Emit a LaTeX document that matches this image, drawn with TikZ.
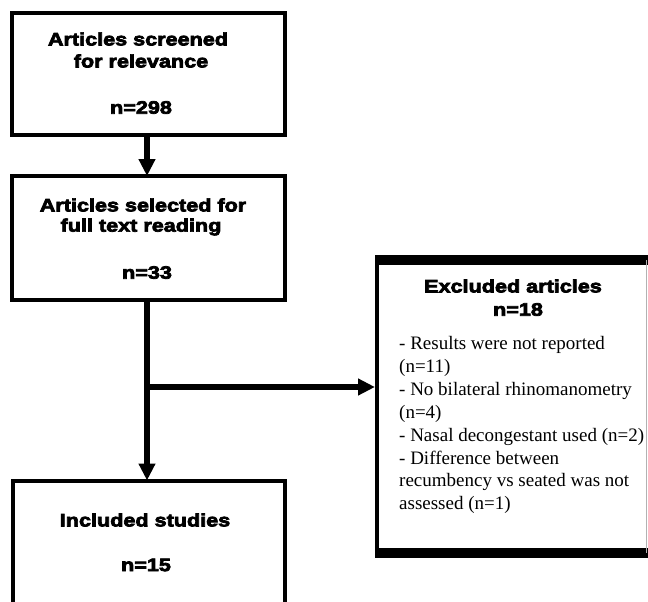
\documentclass[tikz,border=0pt]{standalone}
\usepackage{fontspec}
\setmainfont{Liberation Serif}
\newfontfamily\heavy{Liberation Sans Bold}[FakeBold=4, FakeStretch=1.2]
\usetikzlibrary{arrows.meta}
\tikzset{
  box/.style={draw=black, line width=4pt, fill=white, inner sep=0pt, outer sep=0pt},
  hv/.style={font=\heavy\fontsize{18}{22}\selectfont, inner sep=0pt, anchor=center},
  sr/.style={font=\fontsize{19}{23}\selectfont, inner sep=0pt, anchor=base west},
  conn/.style={line width=5.5pt, -{Triangle[length=17pt,width=16pt]}},
  plain/.style={line width=5.5pt}
}
\begin{document}
\begin{tikzpicture}[x=1pt,y=-1pt]
\useasboundingbox (0,0) rectangle (648,602);
\fill[white] (0,0) rectangle (648,602);
\clip (0,0) rectangle (648,602);
% boxes
\node[box, minimum width=273pt, minimum height=122pt] (b1) at (148.5,74) {};
\node[box, minimum width=273pt, minimum height=124pt] (b2) at (148.5,238) {};
\node[box, minimum width=272pt, minimum height=123.5pt] (b3) at (149,542.25) {};
\node[inner sep=0pt, outer sep=0pt, minimum width=270pt, minimum height=293pt] (ex) at (512,406.5) {};
\draw[line width=4pt] (ex.north west) -- (ex.south west);
\draw[line width=9.5pt] ([xshift=-2pt]ex.north west) -- ([xshift=2pt]ex.north east);
\draw[line width=10pt] ([xshift=-2pt]ex.south west) -- ([xshift=2pt]ex.south east);
\draw[gray!60, line width=1pt] ([xshift=-0.5pt]ex.north east) -- ([xshift=-0.5pt]ex.south east);
% texts
\node[hv] (t1a) at (138,39) {Articles screened};
\node[hv] (t1b) at (141,61) {for relevance};
\node[hv] (t1c) at (141,107.5) {n=298};
\node[hv] (t2a) at (143,205) {Articles selected for};
\node[hv] (t2b) at (141,227) {full text reading};
\node[hv] (t2c) at (147,272.5) {n=33};
\node[hv] (t3a) at (145,520) {Included studies};
\node[hv] (t3b) at (146,565) {n=15};
\node[hv] (exa) at (513,286) {Excluded articles};
\node[hv] (exb) at (518,309.5) {n=18};
\node[sr] (l1) at (399,349) {- Results were not reported};
\node[sr] (l2) at (399,372) {(n=11)};
\node[sr] (l3) at (399,395) {- No bilateral rhinomanometry};
\node[sr] (l4) at (399,418) {(n=4)};
\node[sr] (l5) at (399,441) {- Nasal decongestant used (n=2)};
\node[sr] (l6) at (399,464) {- Difference between};
\node[sr] (l7) at (399,486.5) {recumbency vs seated was not};
\node[sr] (l8) at (399,509) {assessed (n=1)};
% connectors
\coordinate (vx) at (147,0);
\coordinate (br) at (147,387);
\draw[conn] (b1.south -| vx) -- (b2.north -| vx);
\draw[conn] (b2.south -| vx) -- (b3.north -| vx);
\draw[conn] (br) -- ([xshift=-2pt]ex.west |- br);
\end{tikzpicture}
\end{document}
